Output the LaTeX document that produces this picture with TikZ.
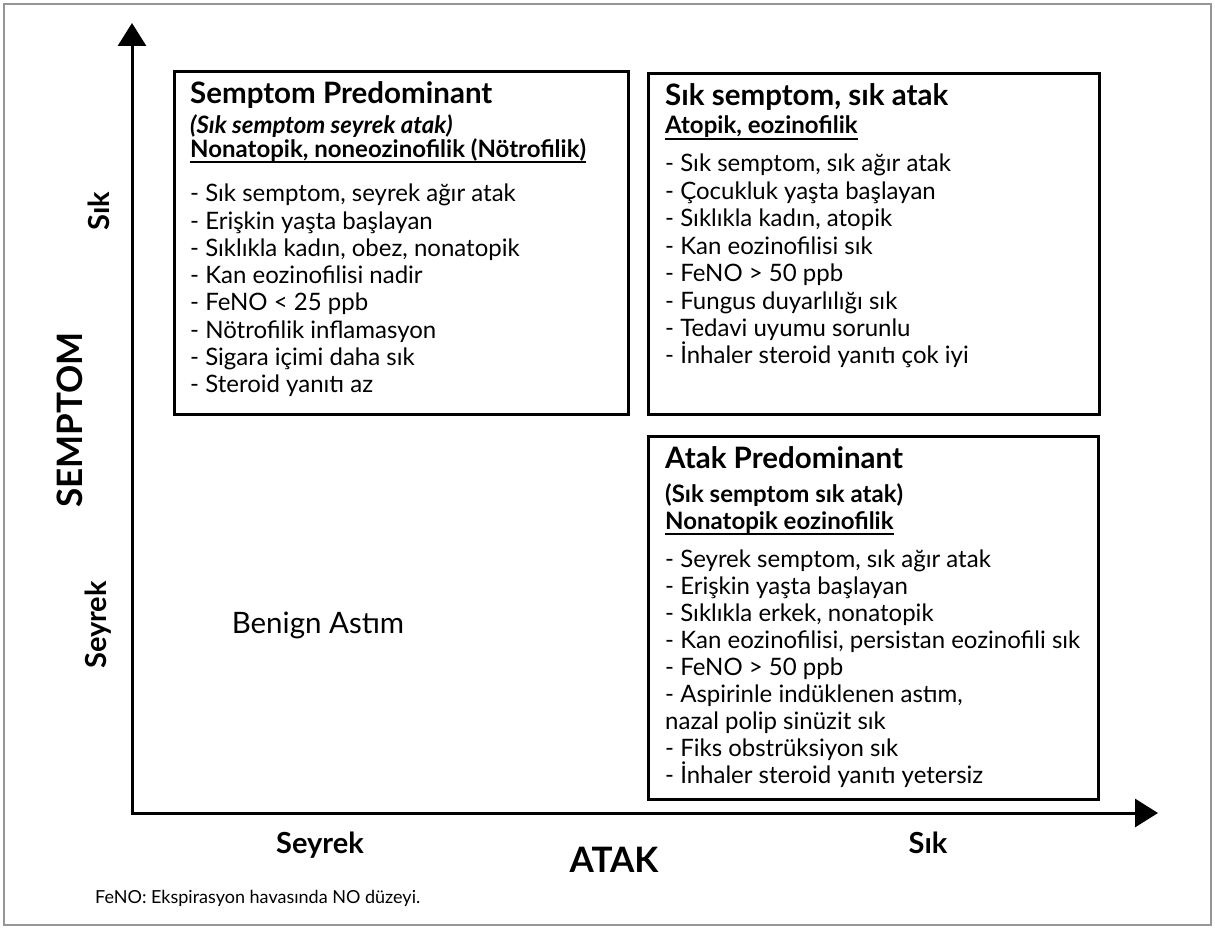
\documentclass[tikz,border=0pt]{standalone}
\usepackage{fontspec}
\setmainfont{Lato}
\usetikzlibrary{arrows.meta}
\definecolor{frameGray}{RGB}{150,150,150}
\begin{document}
\begin{tikzpicture}[x=1pt,y=-1pt]
\tikzset{
    asBox/.style={draw,line width=3pt,anchor=north west,inner sep=0pt},
    asText/.style={anchor=base west,inner sep=0pt},
    asTitle/.style={asText,font=\fontsize{29.5}{32}\selectfont\bfseries},
    asHead/.style={asText,font=\fontsize{24}{27}\selectfont\bfseries},
    asItem/.style={asText,font=\fontsize{24}{27}\selectfont},
    asUnder/.style={line width=2pt},
    asAxisLabel/.style={inner sep=0pt,font=\fontsize{29}{32}\selectfont\bfseries},
    asAxisName/.style={inner sep=0pt,font=\fontsize{35}{38}\selectfont\bfseries},
    asArrow/.style={line width=3pt,{Triangle[length=23pt,width=28pt]}-{Triangle[length=23pt,width=28pt]}}
}
\useasboundingbox (0,0) rectangle (1215,928);
% outer frame
\draw[frameGray,line width=2.5pt] (4,4) rectangle (1211,925);

% axes
\coordinate (origin) at (132,813);
\coordinate (yTip) at (132,23);
\coordinate (xTip) at (1158,813);
\draw[asArrow] (yTip) -- (origin) -- (xTip);

% quadrant boxes
\node[asBox,minimum width=454pt,minimum height=343pt] (semBox) at (173,70) {};
\node[asBox,minimum width=451pt,minimum height=341pt] (bothBox) at (647,72) {};
\node[asBox,minimum width=450pt,minimum height=363pt] (atakBox) at (647,435) {};

% semptom predominant
\node[asTitle] (semTitle) at (190,104) {Semptom Predominant};
\node[asHead,font=\fontsize{24}{27}\selectfont\bfseries\itshape] (semSub) at (190,134) {(Sık semptom seyrek atak)};
\node[asHead] (semType) at (190,158) {Nonatopik, noneozinofilik (Nötrofilik)};
\draw[asUnder] ([yshift=-4pt]semType.base west) -- ([yshift=-4pt]semType.base east);
\foreach \itemText [count=\i from 0] in {%
    {- Sık semptom, seyrek ağır atak},
    {- Erişkin yaşta başlayan},
    {- Sıklıkla kadın, obez, nonatopik},
    {- Kan eozinofilisi nadir},
    {- FeNO < 25 ppb},
    {- Nötrofilik inflamasyon},
    {- Sigara içimi daha sık},
    {- Steroid yanıtı az}}
    \node[asItem] (semItem\i) at (190,202+27.2*\i) {\itemText};

% sik semptom, sik atak
\node[asTitle] (bothTitle) at (665,106) {Sık semptom, sık atak};
\node[asHead] (bothType) at (665,134) {Atopik, eozinofilik};
\draw[asUnder] ([yshift=-5pt]bothType.base west) -- ([yshift=-5pt]bothType.base east);
\foreach \itemText [count=\i from 0] in {%
    {- Sık semptom, sık ağır atak},
    {- Çocukluk yaşta başlayan},
    {- Sıklıkla kadın, atopik},
    {- Kan eozinofilisi sık},
    {- FeNO > 50 ppb},
    {- Fungus duyarlılığı sık},
    {- Tedavi uyumu sorunlu},
    {- İnhaler steroid yanıtı çok iyi}}
    \node[asItem] (bothItem\i) at (665,172+27.4*\i) {\itemText};

% atak predominant
\node[asTitle] (atakTitle) at (665,468) {Atak Predominant};
\node[asHead] (atakSub) at (665,502) {(Sık semptom sık atak)};
\node[asHead] (atakType) at (665,529) {Nonatopik eozinofilik};
\draw[asUnder] ([yshift=-5pt]atakType.base west) -- ([yshift=-5pt]atakType.base east);
\foreach \itemText [count=\i from 0] in {%
    {- Seyrek semptom, sık ağır atak},
    {- Erişkin yaşta başlayan},
    {- Sıklıkla erkek, nonatopik},
    {- Kan eozinofilisi, persistan eozinofili sık},
    {- FeNO > 50 ppb},
    {- Aspirinle indüklenen astım,},
    {nazal polip sinüzit sık},
    {- Fiks obstrüksiyon sık},
    {- İnhaler steroid yanıtı yetersiz}}
    \node[asItem] (atakItem\i) at (665,567+27.1*\i) {\itemText};

% benign
\node[inner sep=0pt,anchor=base,font=\fontsize{29.5}{32}\selectfont] (benign) at (318,633) {Benign Astım};

% axis labels
\node[asAxisLabel,rotate=90] (ySik) at (99,211) {Sık};
\node[asAxisName,rotate=90] (yName) at (70,420) {SEMPTOM};
\node[asAxisLabel,rotate=90] (ySeyrek) at (98,625) {Seyrek};
\node[asAxisLabel,anchor=base] (xSeyrek) at (320,853) {Seyrek};
\node[asAxisName,anchor=base] (xName) at (614,872) {ATAK};
\node[asAxisLabel,anchor=base] (xSik) at (928,853) {Sık};

% footnote
\node[asText,font=\fontsize{18}{21}\selectfont] (note) at (95,903) {FeNO: Ekspirasyon havasında NO düzeyi.};
\end{tikzpicture}
\end{document}
